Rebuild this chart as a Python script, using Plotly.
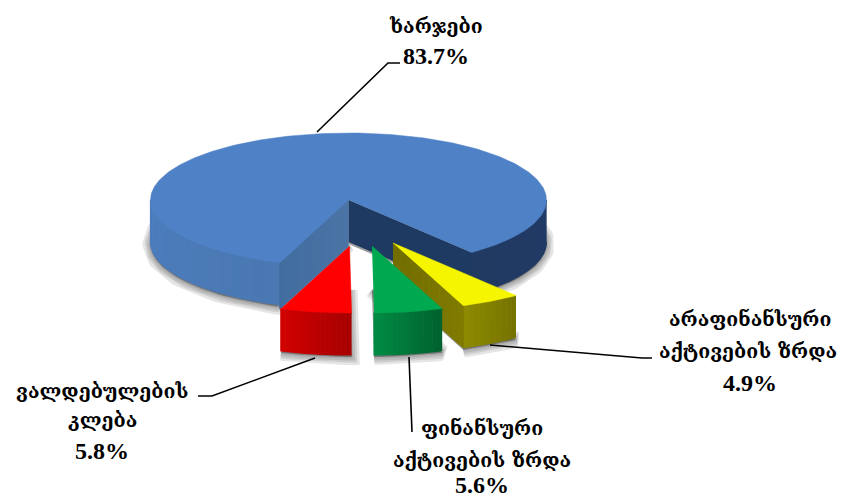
import numpy as np
import plotly.graph_objects as go

# --- data ---
categories = ["ხარჯები", "არაფინანსური აქტივების ზრდა", "ფინანსური აქტივების ზრდა", "ვალდებულების კლება"]
values = [83.7, 4.9, 5.6, 5.8]
label_lines = [["ხარჯები"], ["არაფინანსური", "აქტივების ზრდა"], ["ფინანსური", "აქტივების ზრდა"], ["ვალდებულების", "კლება"]]

# --- layout / style ---
W, H = 843, 500
CX, CY, RX, RY, DEPTH = 348.5, 200, 198, 67, 42
START = 141.6 - 360 * values[0] / 100 + 360  # first slice begins here, clockwise
OFFSETS = [(0, 0), (44.5, 43), (23.5, 46), (1, 46)]
TOP = ["#4f81c6", "#f5f500", "#00a84f", "#ff0000"]
LABEL_POS = [[(436, 26), (436, 56)], [(750, 319), (748, 351), (750, 383)],
             [(482, 428), (482, 460), (482, 485)], [(102, 391), (102, 420), (102, 451)]]
LEADERS = [[(317, 132), (388, 63), (400, 63)], [(490, 345), (642, 358), (652, 358)],
           [(409, 357), (412, 432)], [(315, 358), (212, 396), (198, 396)]]

fig = go.Figure()


def poly(xs, ys, fill, line_w=0, line_col=None):
    fig.add_trace(go.Scatter(x=list(xs), y=list(ys), mode="lines", fill="toself", fillcolor=fill,
                             line=dict(width=line_w, color=line_col or fill), hoverinfo="skip", showlegend=False))


def pt(t, off=(0, 0), dz=0):
    r = np.radians(t)
    return CX + off[0] + RX * np.sin(r), CY + off[1] + dz - RY * np.cos(r)


def arc(t0, t1, off=(0, 0), dz=0, n=None):
    n = n or max(2, int(abs(t1 - t0)) + 2)
    return pt(np.linspace(t0, t1, n), off, dz)


def mix(c0, c1, f):
    a = [int(c0[i:i + 2], 16) for i in (1, 3, 5)]
    b = [int(c1[i:i + 2], 16) for i in (1, 3, 5)]
    return "rgb(%d,%d,%d)" % tuple(round(x + (y - x) * f) for x, y in zip(a, b))


def rim(t0, t1, off, c0, c1, steps=24):
    """Outer wall from angle t0 to t1 with a colour ramp."""
    edges = np.linspace(t0, t1, steps + 1)
    for i in range(steps):
        xa, ya = arc(edges[i], edges[i + 1], off, 0, 4)
        xb, yb = arc(edges[i + 1], edges[i], off, DEPTH, 4)
        col = mix(c0, c1, i / max(steps - 1, 1))
        poly(np.r_[xa, xb], np.r_[ya, yb], col, 1.2, col)


def face(t, off, col, col2=None, steps=12, extra=0):
    """Radial cut wall at angle t."""
    x1, y1 = pt(t, off)
    x0, y0 = CX + off[0], CY + off[1]
    d = DEPTH + extra
    if col2 is None:
        poly([x0, x1, x1, x0], [y0, y1, y1 + d, y0 + d], col)
        return
    fr = np.linspace(0, 1, steps + 1)
    for i in range(steps):
        xa, xb = x0 + (x1 - x0) * fr[i], x0 + (x1 - x0) * fr[i + 1]
        ya, yb = y0 + (y1 - y0) * fr[i], y0 + (y1 - y0) * fr[i + 1]
        c = mix(col, col2, i / (steps - 1))
        poly([xa, xb, xb, xa], [ya, yb, yb + d, ya + d], c, 1.2, c)


def top(t0, t1, off, col):
    x, y = arc(t0, t1, off)
    poly(np.r_[CX + off[0], x], np.r_[CY + off[1], y], col, 0.5, col)


def shadow(t0, t1, off):
    x, y = arc(t0, t1, off, DEPTH + 2)
    xs = np.r_[CX + off[0], x]
    ys = np.r_[CY + off[1] + DEPTH + 2, y]
    for w in (16, 11, 7, 3):
        fig.add_trace(go.Scatter(x=xs, y=ys, mode="lines", fill="toself", fillcolor="rgba(70,70,70,0.18)",
                                 line=dict(width=w, color="rgba(70,70,70,0.14)"), hoverinfo="skip", showlegend=False))


# slice angles derived from the values
edges = [START]
for v in values:
    edges.append(edges[-1] + 360 * v / 100)
sl = [(edges[i], edges[i + 1]) for i in range(4)]
blue0, blue1 = sl[0]           # about 200 -> 501
y0a, y1a = sl[1][0] - 360, sl[1][1] - 360
g0a, g1a = sl[2][0] - 360, sl[2][1] - 360
r0a, r1a = sl[3][0] - 360, sl[3][1] - 360

# shadows
shadow(blue0, blue1, OFFSETS[0])
shadow(y0a, y1a, OFFSETS[1])
shadow(g0a, g1a, OFFSETS[2])
shadow(r0a, r1a, OFFSETS[3])

# big slice
rim(90, blue1 - 360, OFFSETS[0], "#1f3a66", "#213a62", 10)
rim(blue0, 270, OFFSETS[0], "#4a78b2", "#4c7dbd", 24)
face(blue1 - 360, OFFSETS[0], "#1f3a62")
face(blue0, OFFSETS[0], "#4a74a5", "#426d9f", extra=4)
top(blue0, blue1, OFFSETS[0], TOP[0])

# yellow
rim(y0a, y1a, OFFSETS[1], "#757300", "#8d8a00", 10)
face(y1a, OFFSETS[1], "#726e00", "#7f7a00")
top(y0a, y1a, OFFSETS[1], TOP[1])

# green
rim(g0a, g1a, OFFSETS[2], "#00622f", "#008a42", 14)
top(g0a, g1a, OFFSETS[2], TOP[2])

# red
rim(r0a, r1a, OFFSETS[3], "#a80000", "#d00000", 14)
top(r0a, r1a, OFFSETS[3], TOP[3])

# leaders
for seg in LEADERS:
    fig.add_trace(go.Scatter(x=[p[0] for p in seg], y=[p[1] for p in seg], mode="lines",
                             line=dict(color="#000000", width=1.6), hoverinfo="skip", showlegend=False))

# labels
FONT = "DejaVu Serif, DejaVu Sans, serif"
for lines, val, pos in zip(label_lines, values, LABEL_POS):
    texts = lines + [f"{val:.1f}%"]
    for j, (txt, (x, y)) in enumerate(zip(texts, pos)):
        is_pct = j == len(texts) - 1
        fig.add_annotation(x=x, y=y, xref="x", yref="y", text=f"<b>{txt}</b>",
                           showarrow=False, xanchor="center", yanchor="middle",
                           font=dict(family="Liberation Serif" if is_pct else FONT,
                                     size=24 if is_pct else 19.5, color="#000000"))

fig.update_layout(width=W, height=H, margin=dict(l=0, r=0, t=0, b=0), paper_bgcolor="white", plot_bgcolor="white",
                  showlegend=False,
                  xaxis=dict(range=[0, W], visible=False, fixedrange=True),
                  yaxis=dict(range=[H, 0], visible=False, fixedrange=True))
fig.write_html("out.html", config=dict(displayModeBar=False),
               post_script="document.body.style.margin='0';document.body.style.overflow='hidden';")
